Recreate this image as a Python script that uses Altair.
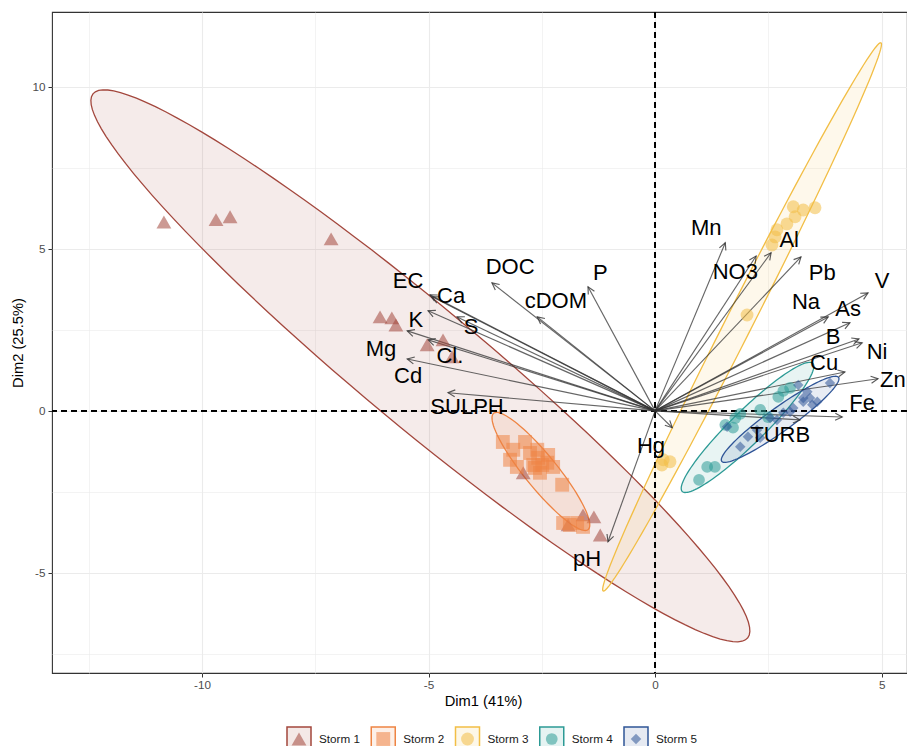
import math
import altair as alt
import pandas as pd

# ---------------- data ----------------
storms = ["Storm 1", "Storm 2", "Storm 3", "Storm 4", "Storm 5"]
storm_colors = ["#A3473D", "#EE8443", "#F2BE45", "#2C9A95", "#2F5597"]
storm_shapes = ["triangle-up", "square", "circle", "circle", "diamond"]
storm_sizes = [220, 110, 140, 140, 150]

s1_x = [-10.84, -9.69, -9.38, -7.15, -6.07, -5.81, -5.72, -5.03, -4.68, -4.48, -2.91, -1.92, -1.59, -1.35, -1.21]
s1_y = [5.83, 5.90, 5.99, 5.31, 2.90, 2.87, 2.65, 2.04, 2.19, 1.67, -1.91, -3.52, -3.21, -3.27, -3.83]

s2_x = [-3.36, -3.13, -2.87, -2.76, -2.60, -2.58, -2.38, -2.36, -2.49, -2.65, -2.54, -2.25, -3.20, -3.05, -2.05, -2.03, -1.88, -1.72, -1.59, -2.69]
s2_y = [-0.96, -1.20, -0.96, -1.30, -1.20, -1.45, -1.60, -1.36, -1.67, -1.76, -1.91, -1.73, -1.51, -1.73, -2.28, -3.46, -3.52, -3.46, -3.58, -1.67]

s3_x = [3.05, 3.27, 3.53, 3.09, 2.91, 2.69, 2.65, 2.58, 2.03, 0.18, 0.33, 0.15]
s3_y = [6.30, 6.20, 6.27, 5.99, 5.77, 5.59, 5.37, 5.12, 2.96, -1.51, -1.57, -1.67]

s4_x = [2.83, 2.72, 1.88, 1.77, 1.72, 2.49, 1.15, 1.32, 0.97, 1.55, 2.32, 2.98]
s4_y = [0.62, 0.43, -0.09, -0.22, -0.52, -0.19, -1.73, -1.73, -2.13, -0.43, 0.03, 0.71]

s5_x = [3.16, 3.36, 3.42, 3.27, 3.86, 3.58, 3.05, 2.98, 2.54, 2.25, 2.05, 1.88, 1.59, 2.32, 2.69, 3.47, 2.83, 3.27]
s5_y = [0.80, 0.59, 0.40, 0.40, 0.86, 0.28, 0.09, -0.03, -0.22, -0.59, -0.80, -1.11, -0.49, -0.83, -0.28, 0.19, -0.06, 0.28]

# ellipse parameters per storm (centre, semi-axes, rotation in degrees)
ell_cx = [-5.18, -2.52, 1.92, 2.04, 2.76]
ell_cy = [1.39, -1.87, 2.90, -0.51, -0.26]
ell_a = [11.09, 2.08, 9.00, 2.45, 1.83]
ell_b = [1.57, 0.40, 0.31, 0.42, 0.32]
ell_deg = [-49.7, -60.6, 70.1, 54.5, 45.7]

variables = ["Mn", "NO3", "Al", "Pb", "V", "Na", "As", "B", "Ni", "Cu", "Zn", "Fe", "TURB",
             "Hg", "pH", "P", "cDOM", "DOC", "EC", "Ca", "K", "S", "Mg", "Cl.", "Cd", "SULPH"]
arrow_x = [1.55, 2.23, 2.56, 3.22, 4.70, 3.82, 4.30, 4.50, 4.57, 4.19, 4.92, 4.13, 3.20,
           0.38, -1.04, -1.48, -2.60, -3.60, -4.97, -4.92, -5.01, -4.37, -5.47, -5.01, -5.47, -4.57]
arrow_y = [5.19, 4.78, 4.88, 4.75, 3.64, 2.90, 2.72, 2.22, 2.10, 1.20, 0.99, -0.19, -0.28,
           -0.52, -4.04, 3.83, 2.90, 3.95, 3.58, 3.52, 3.09, 2.90, 2.47, 2.19, 1.60, 0.56]
label_x = [1.13, 1.77, 2.96, 3.69, 5.01, 3.33, 4.26, 3.93, 4.90, 3.73, 5.25, 4.57, 2.76,
           -0.09, -1.50, -1.21, -2.19, -3.20, -5.45, -4.50, -5.28, -4.06, -6.05, -4.53, -5.45, -4.15]
label_y = [5.65, 4.29, 5.28, 4.26, 4.01, 3.36, 3.15, 2.28, 1.82, 1.48, 0.96, 0.25, -0.74,
           -1.08, -4.57, 4.26, 3.40, 4.44, 4.01, 3.55, 2.81, 2.59, 1.91, 1.70, 1.08, 0.12]

x_ticks = [-12.5, -10, -7.5, -5, -2.5, 0, 2.5, 5]
y_ticks = [-7.5, -5, -2.5, 0, 2.5, 5, 7.5, 10]

# ---------------- layout ----------------
X_DOMAIN = [-13.31, 5.56]
Y_DOMAIN = [-8.09, 12.31]
W, H = 855, 661
FONT = "Liberation Sans"
LEG_Y = 727

# ---------------- tables ----------------
pts = []
for name, xs_, ys_ in zip(storms, [s1_x, s2_x, s3_x, s4_x, s5_x], [s1_y, s2_y, s3_y, s4_y, s5_y]):
    for a, b in zip(xs_, ys_):
        pts.append({"storm": name, "x": a, "y": b})
pts = pd.DataFrame(pts)

ell = []
for k, name in enumerate(storms):
    th = math.radians(ell_deg[k])
    n = 120
    for i in range(n + 1):
        t = 2 * math.pi * i / n
        ex = ell_cx[k] + ell_a[k] * math.cos(th) * math.cos(t) - ell_b[k] * math.sin(th) * math.sin(t)
        ey = ell_cy[k] + ell_a[k] * math.sin(th) * math.cos(t) + ell_b[k] * math.cos(th) * math.sin(t)
        ell.append({"storm": name, "i": i, "x": ex, "y": ey})
ell = pd.DataFrame(ell)

sx = W / (X_DOMAIN[1] - X_DOMAIN[0])
sy = H / (Y_DOMAIN[1] - Y_DOMAIN[0])
arr = pd.DataFrame({"name": variables, "x": arrow_x, "y": arrow_y, "lx": label_x, "ly": label_y})
arr["x0"] = 0.0
arr["y0"] = 0.0
arr["ang"] = [math.degrees(math.atan2(-b * sy, a * sx)) % 360 for a, b in zip(arrow_x, arrow_y)]

leg = pd.DataFrame({"storm": storms})

# ---------------- scales / axes ----------------
xs = alt.Scale(domain=X_DOMAIN, nice=False, zero=False)
ys = alt.Scale(domain=Y_DOMAIN, nice=False, zero=False)
col = alt.Scale(domain=storms, range=storm_colors)
shp = alt.Scale(domain=storms, range=storm_shapes)
siz = alt.Scale(domain=storms, range=storm_sizes)

minor = "datum.value % 5 !== 0"
common_axis = dict(
    domain=False, grid=True, gridColor="#EBEBEB",
    gridWidth={"condition": {"test": minor, "value": 0.6}, "value": 1.1},
    tickOpacity={"condition": {"test": minor, "value": 0}, "value": 1},
    tickColor="#333333", tickSize=4, tickWidth=1,
    labelExpr="datum.value % 5 === 0 ? '' + datum.value : ''",
    labelFont=FONT, labelFontSize=11.7, labelColor="#4D4D4D",
    labelFlush=False, labelOverlap=False,
    titleFont=FONT, titleFontSize=14.7, titleFontWeight="normal", titleColor="#000000",
    titleBaseline="middle", titleAlign="center",
)
x_axis = alt.Axis(values=x_ticks, title="Dim1 (41%)", labelPadding=2, titleX=431, titleY=28, **common_axis)
y_axis = alt.Axis(values=y_ticks, title="Dim2 (25.5%)", labelPadding=3, titleX=-34, titleY=H / 2,
                  titleAngle=270, **common_axis)


def qx(f):
    return alt.X(f, type="quantitative", scale=xs, axis=None)


def qy(f):
    return alt.Y(f, type="quantitative", scale=ys, axis=None)


# ---------------- layers ----------------
ellipses = alt.Chart(ell).mark_line(strokeWidth=1.3, fillOpacity=0.11).encode(
    x=qx("x"), y=qy("y"),
    stroke=alt.Stroke("storm:N", scale=col, legend=None),
    fill=alt.Fill("storm:N", scale=col, legend=None),
    detail="storm:N",
    order=alt.Order("i:Q"),
)

vline = alt.Chart(leg).mark_rule(color="black", strokeDash=[6, 4], strokeWidth=1.2).encode(
    x=alt.XDatum(0, type="quantitative", scale=xs, axis=x_axis)
)
hline = alt.Chart(leg).mark_rule(color="black", strokeDash=[6, 4], strokeWidth=1.2).encode(
    y=alt.YDatum(0, type="quantitative", scale=ys, axis=y_axis)
)

points = alt.Chart(pts).mark_point(filled=True, opacity=0.55, strokeWidth=0).encode(
    x=qx("x"), y=qy("y"),
    color=alt.Color("storm:N", scale=col, legend=None),
    shape=alt.Shape("storm:N", scale=shp, legend=None),
    size=alt.Size("storm:N", scale=siz, legend=None),
)

arrows = alt.Chart(arr).mark_rule(color="#333333", opacity=0.75, strokeWidth=1.15).encode(
    x=qx("x0"), y=qy("y0"), x2="x", y2="y"
)
heads = alt.Chart(arr).mark_point(
    shape="M-1,-0.5L0,0L-1,0.5", filled=False, size=196, color="#333333", opacity=0.8, strokeWidth=1.15
).encode(
    x=qx("x"), y=qy("y"), angle=alt.Angle("ang:Q", scale=None)
)
labels = alt.Chart(arr).mark_text(font=FONT, fontSize=22, color="#000000", baseline="middle", align="center").encode(
    x=qx("lx"), y=qy("ly"), text="name:N"
)

# legend built from marks
lx = alt.X("storm:N", scale=alt.Scale(type="point", domain=storms, range=[247, 584], padding=0), axis=None)
leg_box = alt.Chart(leg).mark_square(size=576, filled=True, fillOpacity=0.12, strokeWidth=1.5).encode(
    x=lx, y=alt.value(LEG_Y),
    fill=alt.Fill("storm:N", scale=col, legend=None),
    stroke=alt.Stroke("storm:N", scale=col, legend=None),
)
leg_sym = alt.Chart(leg).mark_point(filled=True, opacity=0.55, strokeWidth=0).encode(
    x=lx, y=alt.value(LEG_Y),
    color=alt.Color("storm:N", scale=col, legend=None),
    shape=alt.Shape("storm:N", scale=shp, legend=None),
    size=alt.Size("storm:N", scale=siz, legend=None),
)
leg_txt = alt.Chart(leg).mark_text(font=FONT, fontSize=11.7, color="#1A1A1A", align="left", baseline="middle", dx=20).encode(
    x=lx, y=alt.value(LEG_Y), text="storm:N"
)

chart = alt.layer(
    ellipses, vline, hline, arrows, heads, points, labels, leg_box, leg_sym, leg_txt
).resolve_scale(x="independent", y="independent").properties(
    width=W, height=H,
    autosize=alt.AutoSizeParams(type="none"),
    padding={"left": 44, "top": 4, "right": 0, "bottom": 73},
    background="white",
).configure_view(stroke="#333333", strokeWidth=1.1)

chart.save("out.html", embed_options={"renderer": "svg", "actions": False})
